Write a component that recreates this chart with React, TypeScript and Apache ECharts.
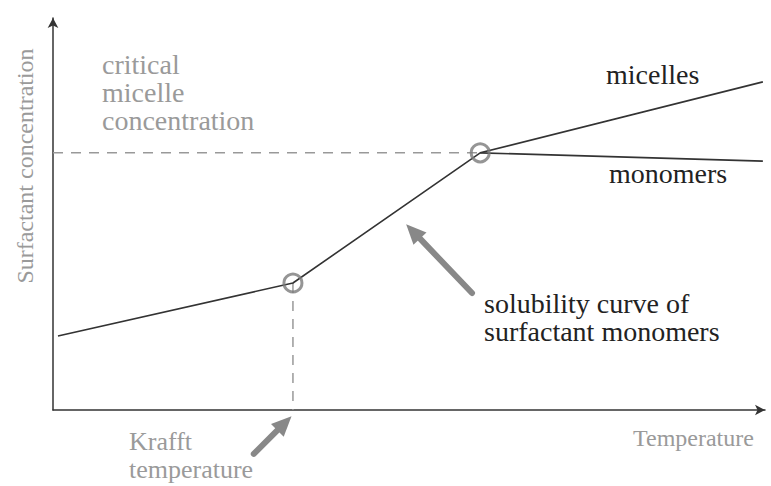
import React, { useEffect, useRef } from "react";
import * as echarts from "echarts";

// Schematic values (temperature %, concentration %)
const solubilityCurve: [number, number][] = [
  [0.7, 18.9],
  [33.7, 32.4],
  [60.0, 65.6],
  [99.7, 83.7],
];
const monomerCurve: [number, number][] = [
  [60.0, 65.6],
  [99.7, 63.5],
];
const specialPoints: [number, number][] = [
  [33.7, 32.4], // Krafft point
  [60.0, 65.6], // CMC point
];
const cmcGuide: [number, number][] = [
  [0, 65.6],
  [60.0, 65.6],
];
const krafftGuide: [number, number][] = [
  [33.7, 32.4],
  [33.7, 0],
];
// arrows: [tailX, tailY, tipX, tipY]
const arrows: [number, number, number, number][] = [
  [58.85, 29.85, 49.6, 47.4],
  [28.2, -11.2, 33.5, -1.6],
];

const SERIF = "'Liberation Serif', 'Times New Roman', serif";
const GRAY_TEXT = "#9a9a9a";
const DARK_TEXT = "#222";

export default function App() {
  const ref = useRef<HTMLDivElement>(null);

  useEffect(() => {
    if (!ref.current) return;
    const chart = echarts.init(ref.current, undefined, { renderer: "svg" });

    const txt = (
      text: string,
      x: number,
      y: number,
      size: number,
      color: string,
      extra: any = {}
    ) => ({
      type: "text",
      x,
      y,
      rotation: extra.rotation || 0,
      style: {
        text,
        fill: color,
        font: `${size}px ${SERIF}`,
        align: extra.align || "left",
        verticalAlign: "middle",
        lineHeight: extra.lineHeight,
      },
    });

    const option: any = {
      animation: false,
      backgroundColor: "#fff",
      grid: { left: 53, right: 6, top: 18, bottom: 76 },
      xAxis: {
        type: "value",
        min: 0,
        max: 100,
        axisLine: {
          show: true,
          onZero: false,
          symbol: ["none", "arrow"],
          symbolSize: [8, 10],
          lineStyle: { color: "#333", width: 1.5 },
        },
        axisTick: { show: false },
        axisLabel: { show: false },
        splitLine: { show: false },
      },
      yAxis: {
        type: "value",
        min: 0,
        max: 100,
        axisLine: {
          show: true,
          onZero: false,
          symbol: ["none", "arrow"],
          symbolSize: [8, 10],
          lineStyle: { color: "#333", width: 1.5 },
        },
        axisTick: { show: false },
        axisLabel: { show: false },
        splitLine: { show: false },
      },
      series: [
        {
          type: "line",
          data: cmcGuide,
          showSymbol: false,
          lineStyle: { color: "#999", width: 1.5, type: [10, 8] },
          z: 1,
        },
        {
          type: "line",
          data: krafftGuide,
          showSymbol: false,
          lineStyle: { color: "#999", width: 1.5, type: [10, 8] },
          z: 1,
        },
        {
          type: "line",
          data: solubilityCurve,
          showSymbol: false,
          lineStyle: { color: "#333", width: 1.6 },
          z: 2,
        },
        {
          type: "line",
          data: monomerCurve,
          showSymbol: false,
          lineStyle: { color: "#333", width: 1.6 },
          z: 2,
        },
        {
          type: "scatter",
          data: specialPoints,
          symbol: "circle",
          symbolSize: 18,
          itemStyle: { color: "rgba(0,0,0,0)", borderColor: "#7a7a7a", borderWidth: 3 },
          z: 3,
        },
        {
          type: "custom",
          clip: false,
          data: arrows,
          z: 4,
          renderItem: (params: any, api: any) => {
            const p1 = api.coord([api.value(0), api.value(1)]);
            const p2 = api.coord([api.value(2), api.value(3)]);
            const dx = p2[0] - p1[0];
            const dy = p2[1] - p1[1];
            const len = Math.sqrt(dx * dx + dy * dy);
            const ux = dx / len;
            const uy = dy / len;
            const headLen = 20;
            const headW = 9;
            const bx = p2[0] - ux * headLen;
            const by = p2[1] - uy * headLen;
            const nx = -uy;
            const ny = ux;
            return {
              type: "group",
              children: [
                {
                  type: "line",
                  shape: { x1: p1[0], y1: p1[1], x2: bx + ux * 2, y2: by + uy * 2 },
                  style: { stroke: "#888", lineWidth: 6, lineCap: "round" },
                },
                {
                  type: "polygon",
                  shape: {
                    points: [
                      [p2[0], p2[1]],
                      [bx + nx * headW, by + ny * headW],
                      [bx - nx * headW, by - ny * headW],
                    ],
                  },
                  style: { fill: "#888" },
                },
              ],
            };
          },
        },
      ],
      graphic: [
        txt("critical\nmicelle\nconcentration", 102, 92, 28, GRAY_TEXT, { lineHeight: 28 }),
        txt("micelles", 606, 74, 28, DARK_TEXT),
        txt("monomers", 609, 173, 28, DARK_TEXT),
        txt("solubility curve of\nsurfactant monomers", 484, 317, 28, DARK_TEXT, { lineHeight: 28 }),
        txt("Temperature", 633, 438, 24, GRAY_TEXT),
        txt("Krafft\ntemperature", 129, 455, 26, GRAY_TEXT, { lineHeight: 28 }),
        txt("Surfactant concentration", 25, 166, 24, GRAY_TEXT, {
          rotation: Math.PI / 2,
          align: "center",
        }),
      ],
    };

    chart.setOption(option);
    return () => chart.dispose();
  }, []);

  return (
    <div
      ref={ref}
      style={{ position: "fixed", left: 0, top: 0, width: 771, height: 486 }}
    />
  );
}
